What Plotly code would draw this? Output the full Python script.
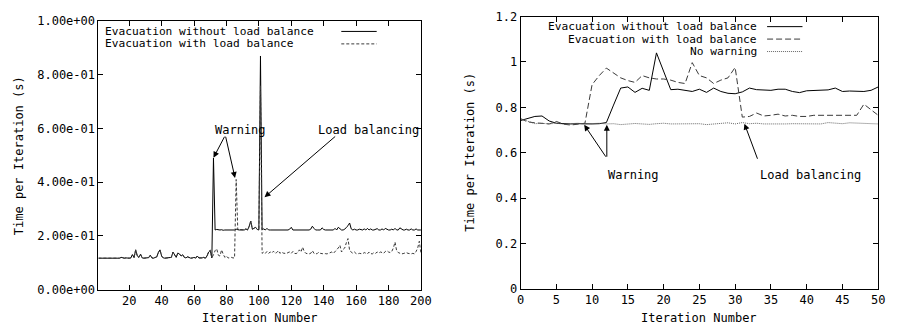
import plotly.graph_objects as go

# ---------------- data: left panel (iterations 1..200) ----------------
left_iter = list(range(1, 201))
left_without_lb = [
    0.117, 0.117, 0.118, 0.117, 0.117, 0.118, 0.117, 0.117, 0.119, 0.117,
    0.117, 0.118, 0.117, 0.117, 0.120, 0.117, 0.117, 0.118, 0.117, 0.117,
    0.118, 0.130, 0.119, 0.148, 0.125, 0.120, 0.132, 0.118, 0.117, 0.118,
    0.117, 0.119, 0.128, 0.118, 0.117, 0.120, 0.122, 0.138, 0.148, 0.125,
    0.118, 0.117, 0.118, 0.117, 0.118, 0.120, 0.140, 0.128, 0.120, 0.136,
    0.133, 0.125, 0.130, 0.120, 0.118, 0.122, 0.118, 0.117, 0.118, 0.120,
    0.117, 0.125, 0.118, 0.117, 0.118, 0.120, 0.117, 0.125, 0.140, 0.146,
    0.118, 0.490, 0.222, 0.224, 0.222, 0.222, 0.223, 0.221, 0.222, 0.222,
    0.223, 0.222, 0.224, 0.222, 0.222, 0.225, 0.222, 0.222, 0.223, 0.222,
    0.222, 0.226, 0.222, 0.235, 0.255, 0.225, 0.228, 0.232, 0.224, 0.222,
    0.870, 0.224, 0.226, 0.222, 0.228, 0.222, 0.222, 0.222, 0.221, 0.222,
    0.222, 0.222, 0.221, 0.222, 0.222, 0.222, 0.222, 0.222, 0.225, 0.232,
    0.222, 0.222, 0.222, 0.222, 0.222, 0.222, 0.221, 0.222, 0.222, 0.222,
    0.222, 0.225, 0.236, 0.228, 0.222, 0.222, 0.222, 0.222, 0.230, 0.224,
    0.222, 0.222, 0.222, 0.222, 0.222, 0.222, 0.228, 0.222, 0.232, 0.226,
    0.222, 0.222, 0.225, 0.232, 0.238, 0.248, 0.226, 0.222, 0.225, 0.222,
    0.222, 0.225, 0.222, 0.222, 0.226, 0.222, 0.228, 0.222, 0.226, 0.222,
    0.222, 0.225, 0.227, 0.222, 0.222, 0.226, 0.222, 0.228, 0.224, 0.222,
    0.222, 0.225, 0.222, 0.228, 0.222, 0.222, 0.230, 0.225, 0.222, 0.222,
    0.225, 0.222, 0.222, 0.226, 0.222, 0.222, 0.226, 0.222, 0.222, 0.222,
]
left_with_lb = [
    0.117, 0.117, 0.118, 0.117, 0.117, 0.118, 0.117, 0.117, 0.119, 0.117,
    0.117, 0.118, 0.117, 0.117, 0.120, 0.117, 0.117, 0.118, 0.117, 0.117,
    0.118, 0.130, 0.119, 0.148, 0.125, 0.120, 0.132, 0.118, 0.117, 0.118,
    0.117, 0.119, 0.128, 0.118, 0.117, 0.120, 0.122, 0.138, 0.148, 0.125,
    0.118, 0.117, 0.118, 0.117, 0.118, 0.120, 0.140, 0.128, 0.120, 0.136,
    0.133, 0.125, 0.130, 0.120, 0.118, 0.122, 0.118, 0.117, 0.118, 0.120,
    0.117, 0.125, 0.118, 0.117, 0.118, 0.120, 0.117, 0.125, 0.140, 0.146,
    0.118, 0.130, 0.145, 0.152, 0.128, 0.125, 0.148, 0.132, 0.120, 0.125,
    0.118, 0.118, 0.120, 0.118, 0.118, 0.410, 0.222, 0.222, 0.223, 0.222,
    0.222, 0.226, 0.222, 0.235, 0.255, 0.225, 0.228, 0.232, 0.224, 0.222,
    0.760, 0.135, 0.140, 0.135, 0.142, 0.135, 0.140, 0.136, 0.143, 0.135,
    0.138, 0.145, 0.135, 0.140, 0.136, 0.135, 0.134, 0.138, 0.140, 0.135,
    0.142, 0.135, 0.134, 0.138, 0.148, 0.140, 0.158, 0.142, 0.135, 0.134,
    0.133, 0.135, 0.145, 0.135, 0.133, 0.134, 0.140, 0.135, 0.133, 0.133,
    0.134, 0.133, 0.135, 0.138, 0.140, 0.135, 0.142, 0.145, 0.155, 0.165,
    0.140, 0.150, 0.155, 0.175, 0.190, 0.145, 0.138, 0.135, 0.140, 0.134,
    0.133, 0.135, 0.134, 0.133, 0.138, 0.135, 0.133, 0.140, 0.134, 0.133,
    0.138, 0.135, 0.140, 0.136, 0.140, 0.138, 0.135, 0.142, 0.145, 0.140,
    0.138, 0.142, 0.155, 0.177, 0.145, 0.138, 0.135, 0.133, 0.134, 0.135,
    0.138, 0.135, 0.134, 0.133, 0.135, 0.133, 0.142, 0.155, 0.180, 0.135,
]
left_ytickvals = [0.0, 0.2, 0.4, 0.6, 0.8, 1.0]
left_yticktext = ["0.00e+00", "2.00e-01", "4.00e-01", "6.00e-01", "8.00e-01", "1.00e+00"]
left_xtickvals = [20, 40, 60, 80, 100, 120, 140, 160, 180, 200]

# ---------------- data: right panel (iterations 0..50) ----------------
right_iter = list(range(0, 51))
right_without_lb = [
    0.742, 0.752, 0.760, 0.762, 0.740, 0.730, 0.728, 0.727, 0.728, 0.726,
    0.727, 0.728, 0.733, 0.810, 0.885, 0.890, 0.866, 0.884, 0.875, 1.040,
    0.960, 0.878, 0.880, 0.875, 0.870, 0.880, 0.866, 0.885, 0.870, 0.862,
    0.860, 0.868, 0.885, 0.878, 0.875, 0.875, 0.880, 0.880, 0.870, 0.865,
    0.873, 0.875, 0.876, 0.877, 0.885, 0.870, 0.872, 0.870, 0.870, 0.875,
    0.890,
]
right_with_lb = [
    0.750, 0.736, 0.732, 0.730, 0.727, 0.738, 0.726, 0.722, 0.725, 0.730,
    0.900, 0.940, 0.973, 0.950, 0.930, 0.918, 0.910, 0.940, 0.930, 0.925,
    0.925, 0.920, 0.910, 0.905, 0.997, 0.940, 0.930, 0.905, 0.920, 0.930,
    0.976, 0.757, 0.760, 0.775, 0.762, 0.765, 0.770, 0.762, 0.765, 0.760,
    0.760, 0.765, 0.765, 0.765, 0.765, 0.765, 0.765, 0.765, 0.814, 0.790,
    0.765,
]
right_no_warning = [
    0.750, 0.740, 0.728, 0.730, 0.727, 0.730, 0.726, 0.728, 0.730, 0.727,
    0.728, 0.730, 0.727, 0.728, 0.724, 0.726, 0.729, 0.727, 0.725, 0.728,
    0.730, 0.727, 0.728, 0.726, 0.729, 0.728, 0.724, 0.727, 0.728, 0.732,
    0.727, 0.733, 0.728, 0.730, 0.727, 0.726, 0.728, 0.727, 0.728, 0.727,
    0.726, 0.728, 0.727, 0.733, 0.729, 0.728, 0.732, 0.730, 0.729, 0.728,
    0.727,
]
right_ytickvals = [0, 0.2, 0.4, 0.6, 0.8, 1.0, 1.2]
right_yticktext = ["0", "0.2", "0.4", "0.6", "0.8", "1", "1.2"]
right_xtickvals = [0, 5, 10, 15, 20, 25, 30, 35, 40, 45, 50]

legend_left = ["Evacuation without load balance", "Evacuation with load balance"]
legend_right = ["Evacuation without load balance", "Evacuation with load balance", "No warning"]

# ---------------- styling ----------------
W, H = 901, 333
FONT = "DejaVu Sans Mono"
FS = 12
LEG_FS = 11.2
BLACK = "#000000"
GRAY = "#3a3a3a"

def px_x(p):
    return p / W

def px_y(p):
    return 1 - p / H

fig = go.Figure()

fig.add_trace(go.Scatter(x=left_iter, y=left_without_lb, mode="lines",
                         line=dict(color=BLACK, width=1), xaxis="x", yaxis="y",
                         showlegend=False))
fig.add_trace(go.Scatter(x=left_iter, y=left_with_lb, mode="lines",
                         line=dict(color=GRAY, width=1, dash="3px,2px"), xaxis="x", yaxis="y",
                         showlegend=False))
fig.add_trace(go.Scatter(x=right_iter, y=right_without_lb, mode="lines",
                         line=dict(color=BLACK, width=1), xaxis="x2", yaxis="y2",
                         showlegend=False))
fig.add_trace(go.Scatter(x=right_iter, y=right_with_lb, mode="lines",
                         line=dict(color=GRAY, width=1, dash="6px,3px"), xaxis="x2", yaxis="y2",
                         showlegend=False))
fig.add_trace(go.Scatter(x=right_iter, y=right_no_warning, mode="lines",
                         line=dict(color="#666666", width=1, dash="1px,1px"), xaxis="x2", yaxis="y2",
                         showlegend=False))

axis_common = dict(showline=True, linecolor=BLACK, linewidth=1, mirror="allticks",
                   ticks="inside", ticklen=5, tickcolor=BLACK, showgrid=False, zeroline=False,
                   tickfont=dict(family=FONT, size=FS, color=BLACK))

fig.update_layout(
    width=W, height=H, margin=dict(l=0, r=0, t=0, b=0), autosize=False,
    paper_bgcolor="white", plot_bgcolor="white",
    xaxis=dict(domain=[px_x(96), px_x(424)], range=[1, 200], tickvals=left_xtickvals,
               anchor="y", **axis_common),
    yaxis=dict(domain=[px_y(295), px_y(14.7)], range=[0, 1.0], tickvals=left_ytickvals,
               ticktext=left_yticktext, anchor="x", **axis_common),
    xaxis2=dict(domain=[px_x(525.3), px_x(889)], range=[0, 50], tickvals=right_xtickvals,
                anchor="y2", **axis_common),
    yaxis2=dict(domain=[px_y(294.3), px_y(10)], range=[0, 1.2], tickvals=right_ytickvals,
                ticktext=right_yticktext, anchor="x2", **axis_common),
)

annotations = []
shapes = []

def text(x, y, s, xanchor="center", angle=0, size=FS):
    annotations.append(dict(x=px_x(x), y=px_y(y), xref="paper", yref="paper", text=s,
                            showarrow=False, xanchor=xanchor, yanchor="middle", textangle=angle,
                            borderpad=0,
                            font=dict(family=FONT, size=size, color=BLACK)))

# axis titles
text(16, 155, "Time per Iteration (s)", angle=-90)
text(474, 152, "Time per Iteration (s)", angle=-90)
text(260, 325, "Iteration Number")
text(707, 325, "Iteration Number")

# legends
for i, lab in enumerate(legend_left):
    yy = 25.5 + i * 13
    text(102, yy, lab, xanchor="left", size=LEG_FS)
shapes.append(dict(type="line", xref="paper", yref="paper", x0=px_x(343), x1=px_x(379),
                   y0=px_y(25.5), y1=px_y(25.5), line=dict(color=BLACK, width=1)))
shapes.append(dict(type="line", xref="paper", yref="paper", x0=px_x(343), x1=px_x(379),
                   y0=px_y(38.5), y1=px_y(38.5), line=dict(color=GRAY, width=1, dash="3px,2px")))

for i, lab in enumerate(legend_right):
    yy = 20.5 + i * 13
    text(767, yy, lab, xanchor="right", size=LEG_FS)
shapes.append(dict(type="line", xref="paper", yref="paper", x0=px_x(776), x1=px_x(812),
                   y0=px_y(20.5), y1=px_y(20.5), line=dict(color=BLACK, width=1)))
shapes.append(dict(type="line", xref="paper", yref="paper", x0=px_x(776), x1=px_x(812),
                   y0=px_y(33.5), y1=px_y(33.5), line=dict(color=GRAY, width=1, dash="6px,3px")))
shapes.append(dict(type="line", xref="paper", yref="paper", x0=px_x(776), x1=px_x(812),
                   y0=px_y(46.5), y1=px_y(46.5), line=dict(color="#666666", width=1, dash="1px,1px")))

# annotation labels (data coordinates)
def label(xref, yref, x, y, s):
    annotations.append(dict(x=x, y=y, xref=xref, yref=yref, text=s, showarrow=False,
                            xanchor="center", yanchor="middle",
                            font=dict(family=FONT, size=FS, color=BLACK)))

def arrow(xref, yref, tx, ty, hx, hy):
    annotations.append(dict(x=hx, y=hy, ax=tx, ay=ty, xref=xref, yref=yref,
                            axref=xref, ayref=yref, text="", showarrow=True,
                            arrowhead=2, arrowsize=1.2, arrowwidth=1, arrowcolor=BLACK))

label("x", "y", 88.4, 0.594, "Warning")
label("x", "y", 167.5, 0.594, "Load balancing")
arrow("x", "y", 79.3, 0.575, 72.0, 0.491)
arrow("x", "y", 79.3, 0.575, 85.3, 0.416)
arrow("x", "y", 148.0, 0.575, 103.5, 0.344)

label("x2", "y2", 15.8, 0.501, "Warning")
label("x2", "y2", 40.5, 0.501, "Load balancing")
arrow("x2", "y2", 12.06, 0.576, 8.9, 0.723)
arrow("x2", "y2", 12.06, 0.576, 12.06, 0.723)
arrow("x2", "y2", 33.2, 0.567, 31.3, 0.728)

fig.update_layout(annotations=annotations, shapes=shapes)

fig.write_html("out.html")
